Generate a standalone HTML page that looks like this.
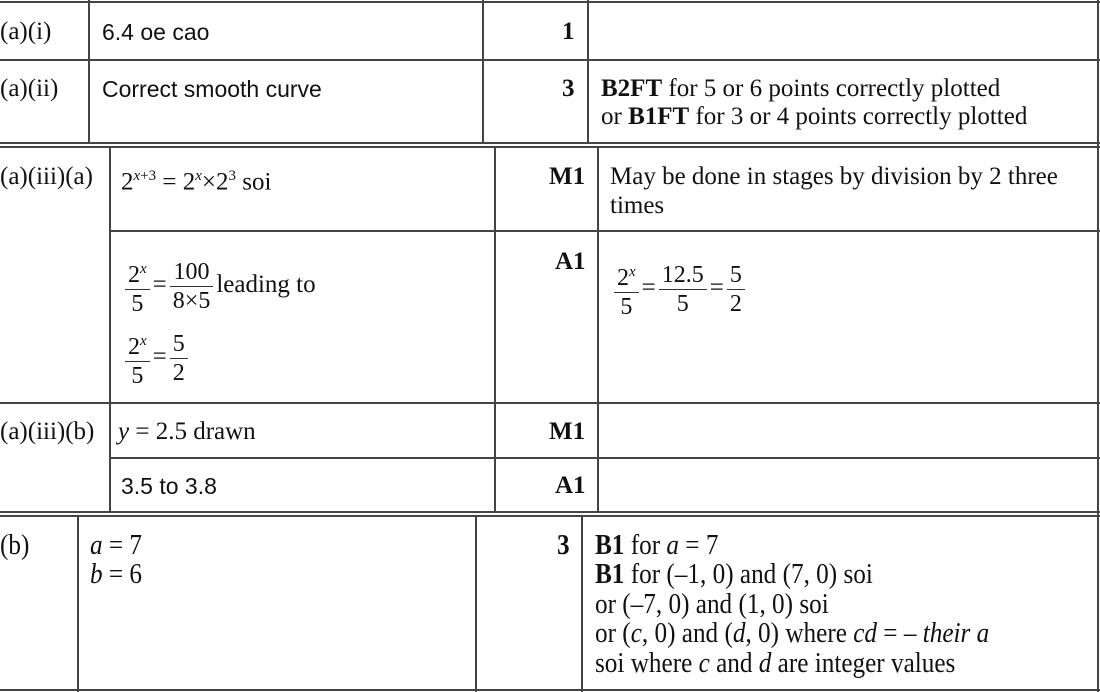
<!DOCTYPE html>
<html><head><meta charset="utf-8"><style>
body{margin:0;width:1100px;height:692px;background:#fff;position:relative;overflow:hidden;font-family:"Liberation Serif",serif;color:#111;font-size:25px}
.h,.v{position:absolute;background:#444}
.h{height:2px}.v{width:2px}
.t{position:absolute;white-space:nowrap;line-height:29px}
.s{font-family:"Liberation Sans",sans-serif;font-size:23px}
.b{font-weight:bold}
.fr{display:inline-block;vertical-align:middle;text-align:center;line-height:28px;margin:0 3px;font-size:24px}
.fr span{display:block;padding:0 3px}
.fr span:first-child{border-bottom:1.5px solid #333}
.c{font-size:28px;transform:scaleX(0.9);transform-origin:left top}
sup{font-size:15px}
</style></head><body>
<div class="h" style="left:0;top:1px;width:1100px"></div>
<div class="h" style="left:0;top:59px;width:1100px"></div>
<div class="h" style="left:0;top:142px;width:1100px"></div>
<div class="v" style="left:88px;top:0;height:143px"></div>
<div class="v" style="left:482px;top:0;height:143px"></div>
<div class="v" style="left:587px;top:0;height:143px"></div>
<div class="v" style="left:1097px;top:0;height:692px"></div>
<div class="h" style="left:0;top:146px;width:1100px"></div>
<div class="h" style="left:110px;top:230px;width:990px"></div>
<div class="h" style="left:0;top:402px;width:1100px"></div>
<div class="h" style="left:110px;top:457px;width:990px"></div>
<div class="h" style="left:0;top:511px;width:1100px"></div>
<div class="v" style="left:109px;top:147px;height:365px"></div>
<div class="v" style="left:494px;top:147px;height:365px"></div>
<div class="v" style="left:597px;top:147px;height:365px"></div>
<div class="h" style="left:0;top:515px;width:1100px"></div>
<div class="h" style="left:0;top:689px;width:1100px"></div>
<div class="v" style="left:77px;top:516px;height:176px"></div>
<div class="v" style="left:475px;top:516px;height:176px"></div>
<div class="v" style="left:581px;top:516px;height:176px"></div>

<div class="t" style="left:0;top:17px">(a)(i)</div>
<div class="t s" style="left:102px;top:18px">6.4 oe cao</div>
<div class="t b" style="left:562px;top:17px">1</div>
<div class="t" style="left:0;top:74px">(a)(ii)</div>
<div class="t s" style="left:102px;top:75px">Correct smooth curve</div>
<div class="t b" style="left:562px;top:74px">3</div>
<div class="t" style="left:601px;top:74px"><b>B2FT</b> for 5 or 6 points correctly plotted</div>
<div class="t" style="left:601px;top:102px">or <b>B1FT</b> for 3 or 4 points correctly plotted</div>

<div class="t" style="left:0;top:162px">(a)(iii)(a)</div>
<div class="t" style="left:121px;top:162px">2<sup><i>x</i>+3</sup> = 2<sup><i>x</i></sup>×2<sup>3</sup> soi</div>
<div class="t b" style="left:549px;top:162px">M1</div>
<div class="t" style="left:610px;top:162px">May be done in stages by division by 2 three</div>
<div class="t" style="left:610px;top:191px">times</div>

<div class="t" style="left:122px;top:255px"><span class="fr"><span>2<sup><i>x</i></sup></span><span>5</span></span>=<span class="fr"><span>100</span><span>8×5</span></span>leading to</div>
<div class="t" style="left:122px;top:327px"><span class="fr"><span>2<sup><i>x</i></sup></span><span>5</span></span>=<span class="fr"><span>5</span><span>2</span></span></div>
<div class="t b" style="left:555px;top:247px">A1</div>
<div class="t" style="left:611px;top:258px"><span class="fr"><span>2<sup><i>x</i></sup></span><span>5</span></span>=<span class="fr"><span>12.5</span><span>5</span></span>=<span class="fr"><span>5</span><span>2</span></span></div>

<div class="t" style="left:0;top:417px">(a)(iii)(b)</div>
<div class="t" style="left:118px;top:417px"><i>y</i> = 2.5 drawn</div>
<div class="t b" style="left:549px;top:417px">M1</div>
<div class="t s" style="left:121px;top:472px">3.5 to 3.8</div>
<div class="t b" style="left:555px;top:471px">A1</div>

<div class="t c" style="left:0;top:531px">(b)</div>
<div class="t c" style="left:90px;top:531px"><i>a</i> = 7</div>
<div class="t c" style="left:90px;top:560px"><i>b</i> = 6</div>
<div class="t b c" style="left:557px;top:531px">3</div>
<div class="t c" style="left:595px;top:531px"><b>B1</b> for <i>a</i> = 7</div>
<div class="t c" style="left:595px;top:560px"><b>B1</b> for (–1, 0) and (7, 0) soi</div>
<div class="t c" style="left:595px;top:590px">or (–7, 0) and (1, 0) soi</div>
<div class="t c" style="left:595px;top:619px">or (<i>c</i>, 0) and (<i>d</i>, 0) where <i>cd</i> = – <i>their a</i></div>
<div class="t c" style="left:595px;top:649px">soi where <i>c</i> and <i>d</i> are integer values</div>
</body></html>
